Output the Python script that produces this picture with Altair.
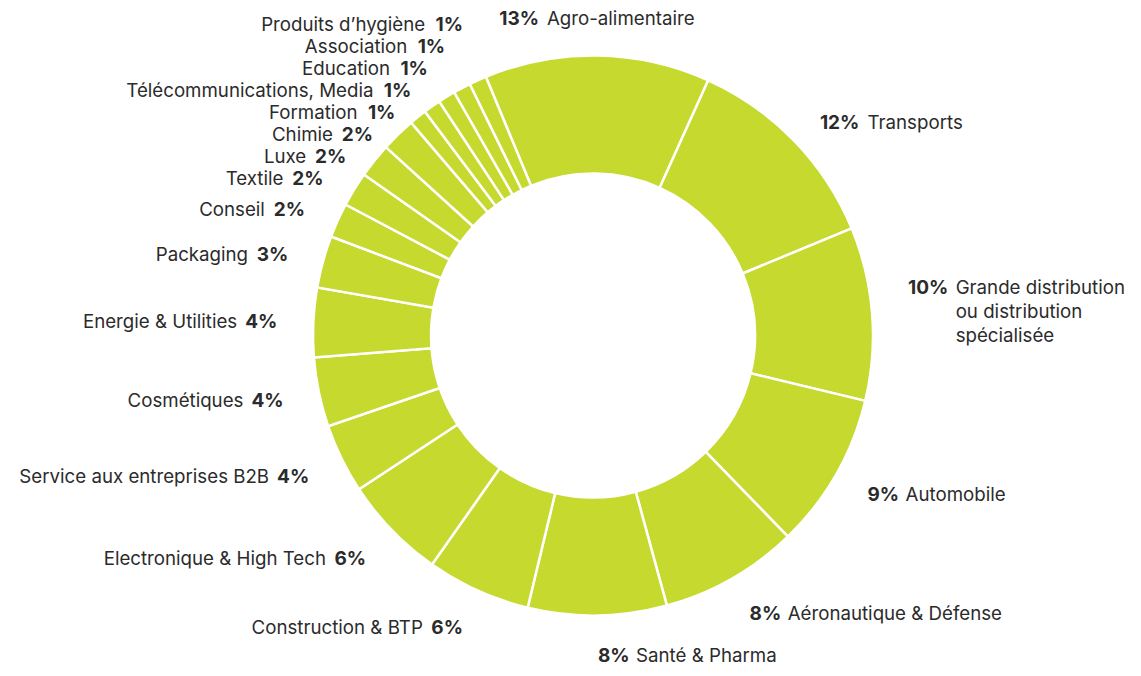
import math
import altair as alt
import pandas as pd

# ---------------- data ----------------
categories = [
    "Agro-alimentaire",
    "Transports",
    "Grande distribution\nou distribution\nspécialisée",
    "Automobile",
    "Aéronautique & Défense",
    "Santé & Pharma",
    "Construction & BTP",
    "Electronique & High Tech",
    "Service aux entreprises B2B",
    "Cosmétiques",
    "Energie & Utilities",
    "Packaging",
    "Conseil",
    "Textile",
    "Luxe",
    "Chimie",
    "Formation",
    "Télécommunications, Media",
    "Education",
    "Association",
    "Produits d’hygiène",
]
values = [13, 12, 10, 9, 8, 8, 6, 6, 4, 4, 4, 3, 2, 2, 2, 2, 1, 1, 1, 1, 1]

# ---------------- layout / style ----------------
MARGIN = 8
W, H = 1125, 660
CX, CY = 593 - MARGIN, 335.5 - MARGIN
R_OUT, R_IN = 280, 162
START_DEG = -22.5
RX = 316
RY_TOP, RY_UP, RY_DOWN = 317, 306, 320
GAP = 22
LINE_H = 24
NAME_SIZE = 18.7
PCT_SIZE = 19
NAME_GAP_L, NAME_GAP_R = 12, 10
FONT = "Inter"
FILL = "#C5D92E"
TEXT = "#2b2b2b"


def pct_width(s):
    w = 0.0
    for ch in s:
        if ch == "%":
            w += 0.86
        elif ch == "1":
            w += 0.50
        else:
            w += 0.62
    return w * PCT_SIZE


def name_width(s):
    return max(len(line) for line in s.split("\n")) * 0.5 * NAME_SIZE


total = sum(values)
rows = []
cum = 0.0
for i, (c, v) in enumerate(zip(categories, values)):
    mid = math.radians(START_DEG + (cum + v / 2) / total * 360)
    cum += v
    s, co = math.sin(mid), math.cos(mid)
    if abs(s) < 0.15 and co > 0:
        side = "top"
        ry = RY_TOP
    else:
        side = "right" if s >= -0.05 else "left"
        ry = RY_UP if co > 0 else RY_DOWN
    rows.append(dict(idx=i, name=c, value=v, pct=f"{v}%", side=side,
                     ax=CX + RX * s, ay=CY - ry * co,
                     nlines=c.count("\n") + 1))


def relax(items, gap):
    clusters = [[t] for t in sorted(items, key=lambda t: t["ay"])]

    def start(cl):
        return sum(t["ay"] for t in cl) / len(cl) - gap * (len(cl) - 1) / 2

    merged = True
    while merged:
        merged = False
        for k in range(len(clusters) - 1):
            a, b = clusters[k], clusters[k + 1]
            if start(b) - (start(a) + gap * (len(a) - 1)) < gap:
                clusters[k] = a + b
                del clusters[k + 1]
                merged = True
                break
    for cl in clusters:
        st = start(cl)
        for j, t in enumerate(cl):
            t["y"] = st + j * gap


relax([r for r in rows if r["side"] == "left"], GAP)
for r in rows:
    if r["side"] != "left":
        r["y"] = r["ay"]

for r in rows:
    wp = pct_width(r["pct"])
    first_center = r["y"] - (r["nlines"] - 1) * LINE_H / 2
    r["by"] = first_center + 0.36 * NAME_SIZE
    if r["side"] == "left":
        r["px"] = r["ax"]
        r["nx"] = r["ax"] - wp - NAME_GAP_L
    elif r["side"] == "right":
        r["px"] = r["ax"]
        r["nx"] = r["ax"] + wp + NAME_GAP_R
    else:
        tot = wp + NAME_GAP_R + name_width(r["name"])
        r["px"] = r["ax"] - tot / 2
        r["nx"] = r["px"] + wp + NAME_GAP_R

df = pd.DataFrame(rows)
base = alt.Chart(df)

a0 = math.radians(START_DEG)
arc = base.mark_arc(outerRadius=R_OUT, innerRadius=R_IN, stroke="white",
                    strokeWidth=2.5, color=FILL).encode(
    theta=alt.Theta("value:Q", stack=True,
                    scale=alt.Scale(domain=[0, total], range=[a0, a0 + 2 * math.pi])),
    order=alt.Order("idx:Q", sort="ascending"),
    x=alt.value(CX),
    y=alt.value(CY),
)

left = alt.datum.side == "left"
notleft = alt.datum.side != "left"

name_l = base.transform_filter(left).mark_text(
    align="right", baseline="alphabetic", font=FONT, fontSize=NAME_SIZE,
    color=TEXT, lineBreak="\n", lineHeight=LINE_H).encode(
    x=alt.X("nx:Q", scale=None), y=alt.Y("by:Q", scale=None), text="name:N")
name_r = base.transform_filter(notleft).mark_text(
    align="left", baseline="alphabetic", font=FONT, fontSize=NAME_SIZE,
    color=TEXT, lineBreak="\n", lineHeight=LINE_H).encode(
    x=alt.X("nx:Q", scale=None), y=alt.Y("by:Q", scale=None), text="name:N")
pct_l = base.transform_filter(left).mark_text(
    align="right", baseline="alphabetic", font=FONT, fontSize=PCT_SIZE,
    fontWeight="bold", color=TEXT).encode(
    x=alt.X("px:Q", scale=None), y=alt.Y("by:Q", scale=None), text="pct:N")
pct_r = base.transform_filter(notleft).mark_text(
    align="left", baseline="alphabetic", font=FONT, fontSize=PCT_SIZE,
    fontWeight="bold", color=TEXT).encode(
    x=alt.X("px:Q", scale=None), y=alt.Y("by:Q", scale=None), text="pct:N")

chart = alt.layer(arc, name_l, name_r, pct_l, pct_r).properties(
    width=W, height=H, padding=0,
    autosize=alt.AutoSizeParams(type="none"),
    background="white",
).configure_view(stroke=None)

chart.save("out.html", embed_options={"renderer": "svg", "actions": False})
